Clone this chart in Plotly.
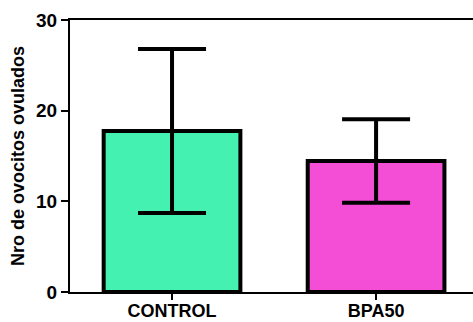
import plotly.graph_objects as go

# Ovulated oocytes per group: mean and standard deviation
groups = ["CONTROL", "BPA50"]
means = [17.75, 14.45]
sds = [9.05, 4.6]
bar_colors = ["#44F1B1", "#F54ED6"]

y_ticks = [0, 10, 20, 30]

fig = go.Figure(
    go.Bar(
        x=groups,
        y=means,
        width=0.67,
        marker=dict(color=bar_colors, line=dict(color="black", width=4)),
        error_y=dict(
            type="data",
            array=sds,
            symmetric=True,
            visible=True,
            color="black",
            thickness=4,
            width=34,
        ),
    )
)

axis_font = dict(family="Liberation Sans, Arial", size=19, color="black", weight=700)

fig.update_layout(
    width=473,
    height=322,
    margin=dict(l=70, r=0, t=20, b=30),
    paper_bgcolor="white",
    plot_bgcolor="white",
    showlegend=False,
)

fig.update_xaxes(
    range=[-0.5, 1.475],
    automargin=False,
    showline=True,
    linecolor="black",
    linewidth=2,
    mirror=True,
    ticks="outside",
    ticklen=6,
    tickwidth=2,
    tickcolor="black",
    tickfont=dict(family="Liberation Sans, Arial", size=18, color="black", weight=700),
    ticklabelstandoff=-5,
    showgrid=False,
    zeroline=False,
)

fig.update_yaxes(
    range=[0, 30],
    automargin=False,
    tickvals=y_ticks,
    showline=True,
    linecolor="black",
    linewidth=2,
    ticks="outside",
    ticklen=7,
    tickwidth=2,
    tickcolor="black",
    tickfont=axis_font,
    showgrid=False,
    zeroline=False,
    title=dict(
        text="Nro de ovocitos ovulados",
        font=dict(family="Liberation Sans, Arial", size=18, color="black", weight=700),
        standoff=7,
    ),
)

fig.write_html("out.html")
